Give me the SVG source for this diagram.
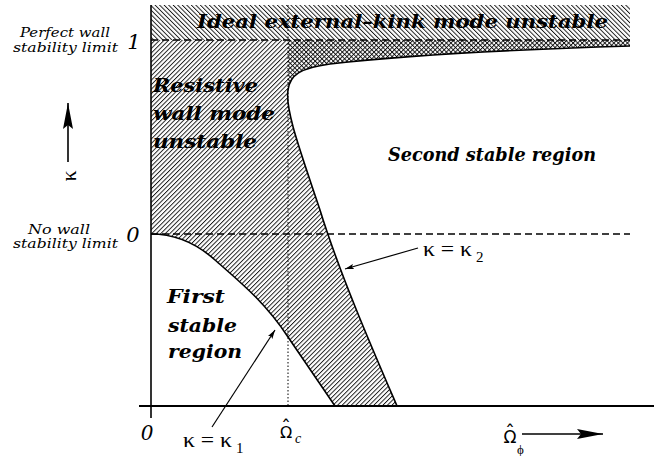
<svg xmlns="http://www.w3.org/2000/svg" width="654" height="456" viewBox="0 0 654 456">
<defs>
<pattern id="hatchF" patternUnits="userSpaceOnUse" width="3.2" height="3.2" patternTransform="rotate(45)"><line x1="0.5" y1="0" x2="0.5" y2="3.2" stroke="#000" stroke-width="0.85"/></pattern>
<pattern id="hatchB" patternUnits="userSpaceOnUse" width="3.2" height="3.2" patternTransform="rotate(-45)"><line x1="0.5" y1="0" x2="0.5" y2="3.2" stroke="#000" stroke-width="0.85"/></pattern>
<marker id="ah" viewBox="0 0 10 6" refX="10" refY="3" markerWidth="9" markerHeight="5.4" markerUnits="userSpaceOnUse" orient="auto"><path d="M0,0 L10,3 L0,6 L2,3 Z" fill="#000"/></marker>
<marker id="big" viewBox="0 0 26 10" refX="26" refY="5" markerWidth="26" markerHeight="10" markerUnits="userSpaceOnUse" orient="auto"><path d="M0,0 L26,5 L0,10 L4,5 Z" fill="#000"/></marker>
<style>
.bi{font-family:"DejaVu Serif",serif;font-weight:bold;font-style:italic;fill:#000}
.it{font-family:"DejaVu Serif",serif;font-style:italic;fill:#000}
.gk{font-family:"Liberation Serif","DejaVu Serif",serif;fill:#000}
.om{font-family:"DejaVu Sans",sans-serif;fill:#000}
.dash{stroke:#000;stroke-width:1.3;stroke-dasharray:7 4;fill:none}
.curve{stroke:#000;stroke-width:1.6;fill:none}
.conn{stroke:#000;stroke-width:1.2;fill:none}
</style>
</defs>
<rect width="654" height="456" fill="#fff"/>

<g id="unstable-regions">
<path fill="url(#hatchB)" d="M151,5 H630 V46 C500,50 400,56 330,64 C300,68 290,75 288,90 V40 H151 Z"/>
<path fill="url(#hatchF)" d="M151,40 H630 V46 C500,50 400,56 330,64 C300,68 290,75 288,90 C285,110 300,150 320,210 C340,275 375,355 397,406 H335 L288,337 C265,302 240,282 215,260 C195,242 175,234 151,234 Z"/>
</g>

<g id="limits">
<line class="dash" x1="151" y1="40" x2="630" y2="40"/>
<line class="dash" x1="151" y1="234" x2="630" y2="234"/>
<line x1="288" y1="5" x2="288" y2="406" stroke="#000" stroke-width="1" stroke-dasharray="1.5 2"/>
</g>

<g id="boundaries">
<path id="kappa2-curve" class="curve" d="M630,46 C500,50 400,56 330,64 C300,68 290,75 288,90 C285,110 300,150 320,210 C340,275 375,355 397,406"/>
<path id="kappa1-curve" class="curve" d="M151,234 C175,234 195,242 215,260 C240,282 265,302 288,337 L335,406"/>
</g>

<g id="axes">
<line x1="151" y1="5" x2="151" y2="418" stroke="#000" stroke-width="1.6"/>
<line x1="139" y1="406" x2="654" y2="406" stroke="#000" stroke-width="2.2"/>
</g>

<g id="ideal-kink-label"><text class="bi" x="197" y="28" font-size="18" textLength="411" lengthAdjust="spacingAndGlyphs">Ideal external–kink mode unstable</text></g>
<g id="rwm-label">
<text class="bi" x="153" y="92" font-size="19" textLength="105" lengthAdjust="spacingAndGlyphs">Resistive</text>
<text class="bi" x="153" y="120" font-size="19" textLength="122" lengthAdjust="spacingAndGlyphs">wall mode</text>
<text class="bi" x="153" y="148" font-size="19" textLength="104" lengthAdjust="spacingAndGlyphs">unstable</text>
</g>
<g id="second-stable-label"><text class="bi" x="388" y="161" font-size="18" textLength="208" lengthAdjust="spacingAndGlyphs">Second stable region</text></g>
<g id="first-stable-label">
<text class="bi" x="167" y="303" font-size="19" textLength="58" lengthAdjust="spacingAndGlyphs">First</text>
<text class="bi" x="168" y="332" font-size="19" textLength="69" lengthAdjust="spacingAndGlyphs">stable</text>
<text class="bi" x="168" y="358" font-size="19" textLength="74" lengthAdjust="spacingAndGlyphs">region</text>
</g>

<g id="perfect-wall-label">
<text class="it" x="65" y="37" font-size="13" text-anchor="middle" textLength="90" lengthAdjust="spacingAndGlyphs">Perfect wall</text>
<text class="it" x="65.5" y="52" font-size="13" text-anchor="middle" textLength="105" lengthAdjust="spacingAndGlyphs">stability limit</text>
<text class="it" x="134" y="49" font-size="21" text-anchor="middle">1</text>
</g>
<g id="no-wall-label">
<text class="it" x="59" y="234" font-size="13" text-anchor="middle" textLength="62" lengthAdjust="spacingAndGlyphs">No wall</text>
<text class="it" x="65.5" y="248" font-size="13" text-anchor="middle" textLength="105" lengthAdjust="spacingAndGlyphs">stability limit</text>
<text class="it" x="133" y="242" font-size="21" text-anchor="middle">0</text>
</g>
<g id="origin-label"><text class="it" x="147" y="440" font-size="20" text-anchor="middle">0</text></g>

<g id="kappa-axis-label">
<text class="gk" x="0" y="0" font-size="22" text-anchor="middle" transform="translate(76,176) rotate(-90)">κ</text>
</g>
<g id="kappa1-label">
<text class="gk" x="183" y="447" font-size="21" textLength="49" lengthAdjust="spacingAndGlyphs">κ = κ</text>
<text class="gk" x="236" y="453" font-size="15">1</text>
</g>
<g id="kappa2-label">
<text class="gk" x="423" y="256" font-size="21" textLength="49" lengthAdjust="spacingAndGlyphs">κ = κ</text>
<text class="gk" x="476" y="262" font-size="15">2</text>
</g>
<g id="omega-c-label">
<text class="om" font-size="16" text-anchor="middle"><tspan x="286" y="438">Ω</tspan><tspan x="286" y="434" font-size="20">ˆ</tspan></text>
<text class="gk" x="295" y="443" font-size="14" font-style="italic">c</text>
</g>
<g id="omega-phi-label">
<text class="om" font-size="17" text-anchor="middle"><tspan x="510" y="443">Ω</tspan><tspan x="510" y="439" font-size="20">ˆ</tspan></text>
<text class="gk" x="517" y="454" font-size="13">ϕ</text>
</g>

<g id="connectors">
<line class="conn" x1="212" y1="427" x2="275" y2="330" marker-end="url(#ah)"/>
<line class="conn" x1="418" y1="248" x2="345" y2="269" marker-end="url(#ah)"/>
<line x1="68" y1="162" x2="68" y2="103" stroke="#000" stroke-width="1.6" marker-end="url(#big)"/>
<line x1="522" y1="434" x2="603" y2="434" stroke="#000" stroke-width="1.6" marker-end="url(#big)"/>
</g>
</svg>
